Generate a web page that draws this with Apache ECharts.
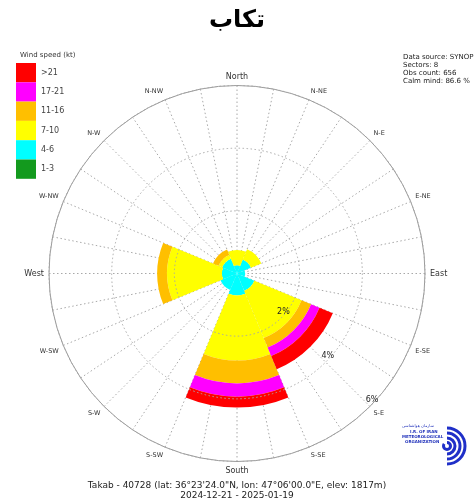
<!DOCTYPE html>
<html>
<head>
<meta charset="utf-8">
<script src="https://cdn.jsdelivr.net/npm/echarts@6/dist/echarts.min.js"></script>
<style>
html, body { margin: 0; padding: 0; background: #fff; }
#container { width: 474px; height: 501px; }
</style>
</head>
<body>
<div id="container"></div>
<script>
// sectors (8) and wind speed classes, frequencies in %
var sectors = ['N', 'NE', 'E', 'SE', 'S', 'SW', 'W', 'NW'];
var dirLabels = ['North', 'N-NE', 'N-E', 'E-NE', 'East', 'E-SE', 'S-E', 'S-SE',
  'South', 'S-SW', 'S-W', 'W-SW', 'West', 'W-NW', 'N-W', 'N-NW'];
var speedBins = ['1-3', '4-6', '7-10', '11-16', '17-21', '>21'];
var binColors = ['#139a1e', '#00ffff', '#ffff00', '#ffbf00', '#ff00ff', '#ff0000'];

var freq1to3   = [0, 0, 0, 0, 0, 0, 0, 0];
var freq4to6   = [0.26, 0.48, 0.26, 0.6, 0.7, 0.57, 0.48, 0.51];
var freq7to10  = [0.49, 0.36, 0, 1.63, 2.08, 0, 1.75, 0.13];
var freq11to16 = [0, 0, 0, 0.33, 0.73, 0, 0.32, 0.19];
var freq17to21 = [0, 0, 0, 0.29, 0.42, 0, 0, 0];
var freqOver21 = [0, 0, 0, 0.46, 0.35, 0, 0, 0];
var allFreq = [freq1to3, freq4to6, freq7to10, freq11to16, freq17to21, freqOver21];

var ringMax = 6;
var ringStep = 2;

var infoLines = ['Data source: SYNOP', 'Sectors: 8', 'Obs count: 656', 'Calm mind: 86.6 %'];

var myChart = echarts.init(document.getElementById('container'));

var center = ['50%', 273.5];
var rad = 188;
var gridLine = { color: '#a8a8a8', type: [1.5, 2.5], width: 1 };

var series = speedBins.map(function (name, i) {
  return {
    name: name,
    type: 'bar',
    coordinateSystem: 'polar',
    polarIndex: 0,
    stack: 'rose',
    barCategoryGap: '0%',
    itemStyle: { color: binColors[i] },
    emphasis: { disabled: true },
    data: allFreq[i]
  };
});

var options = {
  animation: false,
  title: [
    {
      text: 'تكاب', left: 'center', top: 4,
      textStyle: { fontFamily: 'DejaVu Sans', fontWeight: 'bold', fontSize: 24, color: '#000' }
    },
    {
      text: 'Wind speed (kt)', left: 15, top: 47,
      textStyle: { fontFamily: 'DejaVu Sans', fontWeight: 'normal', fontSize: 7, color: '#333' }
    },
    {
      text: infoLines.join('\n'), left: 398, top: 48,
      textStyle: { fontFamily: 'DejaVu Sans', fontWeight: 'normal', fontSize: 7, lineHeight: 8, color: '#222' }
    },
    {
      text: 'Takab - 40728 (lat: 36°23\'24.0"N, lon: 47°06\'00.0"E, elev: 1817m)', left: 'center', top: 476,
      textStyle: { fontFamily: 'DejaVu Sans', fontWeight: 'normal', fontSize: 9, color: '#222' }
    },
    {
      text: '2024-12-21 - 2025-01-19', left: 'center', top: 486,
      textStyle: { fontFamily: 'DejaVu Sans', fontWeight: 'normal', fontSize: 9, color: '#222' }
    }
  ],
  legend: {
    data: speedBins.slice().reverse(),
    orient: 'vertical',
    left: 16, top: 63,
    padding: 0,
    itemGap: 0,
    itemWidth: 20,
    itemHeight: 19.3,
    icon: 'rect',
    selectedMode: false,
    textStyle: { fontFamily: 'DejaVu Sans', fontSize: 8, color: '#444' }
  },
  polar: [
    { center: center, radius: rad },
    { center: center, radius: rad }
  ],
  angleAxis: [
    {
      polarIndex: 0,
      type: 'category',
      data: sectors,
      startAngle: 112.5,
      clockwise: true,
      boundaryGap: true,
      axisLine: { show: false },
      axisTick: { show: false },
      axisLabel: { show: false },
      splitLine: { show: false }
    },
    {
      // grid: 0 at S-E, compass = 135 + value
      polarIndex: 1,
      type: 'value',
      min: 0, max: 360, interval: 11.25,
      startAngle: -45,
      clockwise: true,
      axisLine: { show: true, lineStyle: { color: '#9a9a9a', width: 1 } },
      axisTick: { show: false },
      splitLine: { show: true, lineStyle: gridLine },
      axisLabel: {
        margin: 5,
        formatter: function (v) {
          if (v >= 360) return '';
          var d = (135 + v) % 360;
          if (d % 22.5 !== 0) return '';
          var name = dirLabels[d / 22.5];
          return d % 90 === 0 ? '{c|' + name + '}' : '{s|' + name + '}';
        },
        rich: {
          c: { fontFamily: 'DejaVu Sans', fontSize: 8, color: '#333' },
          s: { fontFamily: 'DejaVu Sans', fontSize: 6.5, color: '#333' }
        }
      }
    }
  ],
  radiusAxis: [
    {
      polarIndex: 0,
      type: 'value',
      min: 0, max: ringMax,
      axisLine: { show: false },
      axisTick: { show: false },
      axisLabel: { show: false },
      splitLine: { show: false }
    },
    {
      polarIndex: 1,
      type: 'value',
      min: 0, max: ringMax, interval: ringStep,
      axisLine: { show: false },
      axisTick: { show: false },
      splitLine: { show: true, lineStyle: gridLine },
      axisLabel: {
        margin: 3,
        align: 'center',
        verticalAlign: 'bottom',
        fontFamily: 'DejaVu Sans', fontSize: 8, color: '#222',
        formatter: function (v) { return v === 0 ? '' : v + '%'; }
      },
      z: 10
    }
  ],
  graphic: [
    {
      type: 'group', left: 402, top: 424,
      children: [
        { type: 'text', x: 0, y: 0, style: { text: 'سازمان هواشناسی', font: '4px DejaVu Sans', fill: '#2233bb' } },
        { type: 'text', x: 8, y: 6, style: { text: 'I.R. OF IRAN', font: 'bold 4px DejaVu Sans', fill: '#2233bb' } },
        { type: 'text', x: 0, y: 11, style: { text: 'METEOROLOGICAL', font: 'bold 4px DejaVu Sans', fill: '#2233bb' } },
        { type: 'text', x: 3, y: 16, style: { text: 'ORGANIZATION', font: 'bold 4px DejaVu Sans', fill: '#2233bb' } },
        { type: 'arc', shape: { cx: 45, cy: 22, r: 18, startAngle: -Math.PI / 2, endAngle: Math.PI / 2 }, style: { stroke: '#1f2fc8', lineWidth: 3, fill: null } },
        { type: 'arc', shape: { cx: 45, cy: 22, r: 13, startAngle: -Math.PI / 2, endAngle: Math.PI / 2 }, style: { stroke: '#1f2fc8', lineWidth: 3, fill: null } },
        { type: 'arc', shape: { cx: 45, cy: 22, r: 8, startAngle: -Math.PI / 2, endAngle: Math.PI / 2 }, style: { stroke: '#1f2fc8', lineWidth: 3, fill: null } },
        { type: 'arc', shape: { cx: 45, cy: 22, r: 3.5, startAngle: -Math.PI / 2, endAngle: Math.PI * 1.2 }, style: { stroke: '#1f2fc8', lineWidth: 3, fill: null } }
      ]
    }
  ],
  series: series
};

myChart.setOption(options);
</script>
</body>
</html>
